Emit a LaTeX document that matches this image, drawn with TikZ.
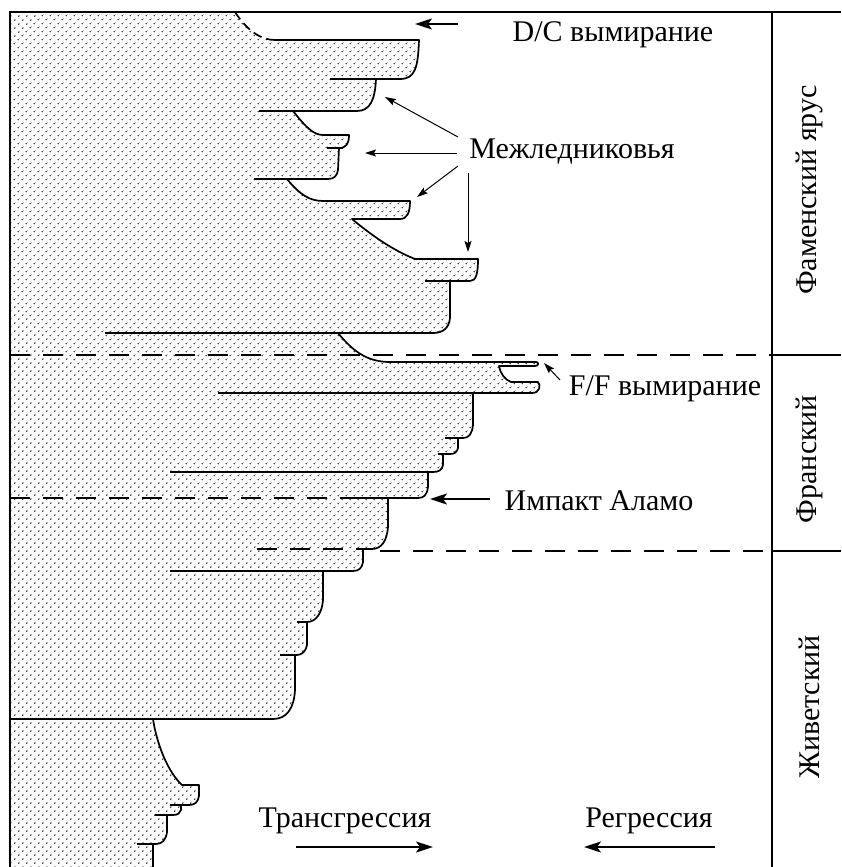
\documentclass[tikz,border=0pt]{standalone}
\usepackage{fontspec}
\setmainfont{Liberation Serif}
\usetikzlibrary{arrows.meta,patterns.meta}

\newcommand\seaprofile{-- (419,40) .. controls (418,68) and (415,79) .. (400,79)
  -- (376,79) .. controls (375,100) and (370,111) .. (357,111)
  -- (293,111) .. controls (305,126) and (313,135) .. (323,135)
  -- (349,135) .. controls (349,144) and (346,148) .. (339,148)
  -- (338,170) .. controls (337,176) and (334,179) .. (328,179)
  -- (287,179) .. controls (300,195) and (310,201) .. (323,201)
  -- (410,201) .. controls (410,213) and (407,219) .. (400,219)
  -- (352,219) .. controls (370,234) and (392,250) .. (415,259)
  -- (478,259) .. controls (478,274) and (476,281) .. (470,281)
  -- (450,281) -- (450,318) .. controls (449,328) and (443,333) .. (433,333)
  -- (338,333) .. controls (352,350) and (366,362) .. (390,362)
  -- (536,362) .. controls (539,362) and (539,366) .. (535,366)
  -- (499,366) .. controls (500,373) and (505,380) .. (511,382)
  -- (538,382) .. controls (541,385) and (540,393) .. (532,393)
  -- (473,393) -- (473,425) .. controls (472,434) and (469,438) .. (463,438)
  -- (458,438) -- (458,448) .. controls (457,452) and (455,454) .. (450,454)
  -- (443,454) -- (443,465) .. controls (442,470) and (439,472) .. (433,472)
  -- (428,472) -- (428,487) .. controls (427,495) and (424,498) .. (418,498)
  -- (388,498) -- (388,527) .. controls (387,540) and (382,549) .. (372,549)
  -- (363,549) -- (363,562) .. controls (362,568) and (359,571) .. (353,571)
  -- (323,571) -- (323,600) .. controls (322,613) and (316,622) .. (307,622)
  -- (307,645) .. controls (306,651) and (302,655) .. (297,655)
  -- (295,655) -- (295,690) .. controls (294,708) and (287,719) .. (273,719)
  -- (153,719) .. controls (157,745) and (168,772) .. (182,785)
  -- (199,785) -- (199,796) .. controls (198,802) and (195,805) .. (189,805)
  -- (181,805) -- (181,810) .. controls (180,813) and (178,815) .. (173,815)
  -- (167,815) -- (167,832) .. controls (166,840) and (162,844) .. (156,844)
  -- (153,844) -- (153,867)}

\begin{document}
\begin{tikzpicture}[x=1pt,y=-1pt,
  edge/.style={line width=1.7pt,line join=round},
  frame/.style={line width=1.2pt},
  cut/.style={line width=1.4pt,dash pattern=on 20pt off 13pt},
  stipple/.style={pattern={Dots[distance=5.4pt,angle=45,radius=0.85pt]},pattern color=black},
  note/.style={font=\fontsize{30}{36}\selectfont,inner sep=0pt},
  big/.style={line width=2pt,-{Stealth[length=17pt,width=11pt,inset=4pt]}},
  small/.style={line width=1pt,-{Stealth[length=11pt,width=7pt,inset=2pt]}}]
\useasboundingbox (0,0) rectangle (841,867);
\fill[stipple] (10,12) -- (235,12) .. controls (248,32) and (262,40) .. (275,40) \seaprofile -- (10,867) -- cycle;
\draw[edge] (275,40) \seaprofile;
\draw[edge,dash pattern=on 9pt off 5pt] (235,12) .. controls (248,32) and (262,40) .. (275,40);
\foreach \y/\a/\b in {79/330/400, 111/259/357, 148/327/343, 179/254/328, 281/425/470, 333/105/433, 393/218/532,
  438/445/463, 454/438/450, 472/170/433, 498/350/388, 571/170/353, 622/297/307, 655/280/297, 719/10/273,
  805/170/189, 815/155/173, 844/137/156} { \draw[edge] (\a,\y) -- (\b,\y); };
% frame and stage boundaries
\draw[frame] (10,867) -- (10,12) -- (841,12); \draw[frame] (772,12) -- (772,867);
\draw[frame] (772,355) -- (841,355); \draw[frame] (772,551) -- (841,551);
\draw[cut] (10,355) -- (772,355); \draw[cut] (10,498) -- (350,498);
\draw[cut] (257,549) -- (363,549); \draw[cut] (380,551) -- (772,551);
% labels
\node[note,anchor=base] (dc) at (613,42) {D/C вымирание};
\node[note,anchor=base] (mezh) at (572,158) {Межледниковья};
\node[note,anchor=base] (ff) at (665,395) {F/F вымирание};
\node[note,anchor=base] (alamo) at (599,510) {Импакт Аламо};
\node[note,anchor=base] (trans) at (345,827) {Трансгрессия};
\node[note,anchor=base] (regr) at (649,827) {Регрессия};
\node[note,rotate=90] (famen) at (809,190) {Фаменский ярус};
\node[note,rotate=90] (frasn) at (809,459) {Франский};
\node[note,rotate=90] (givet) at (809,707) {Живетский};
% arrows
\foreach \n/\x/\y in {dct/458/24, dch/415/24, alt/490/499, alh/430/499, trt/296/847, trh/433/847, ret/715/847, reh/584/847,
  m1t/458/137, m1h/385/97, m2t/457/153, m2h/365/153, m3t/458/166, m3h/417/197, m4t/468/173, m4h/468/252, fft/560/380, ffh/544/363}
  { \coordinate (\n) at (\x,\y); };
\foreach \a/\b in {dct/dch, alt/alh, trt/trh, ret/reh} { \draw[big] (\a) -- (\b); };
\foreach \a/\b in {m1t/m1h, m2t/m2h, m3t/m3h, m4t/m4h, fft/ffh} { \draw[small] (\a) -- (\b); };
\end{tikzpicture}
\end{document}
